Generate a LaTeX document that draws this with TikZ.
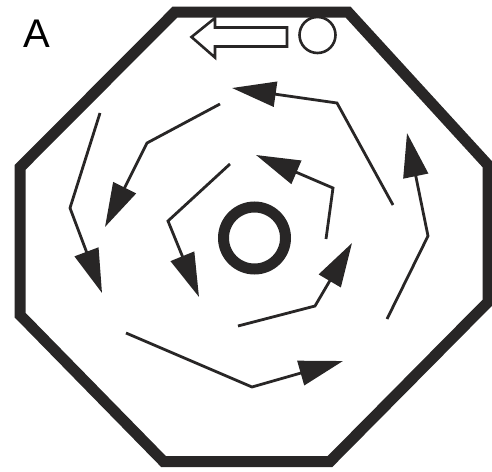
\documentclass[tikz,border=0pt]{standalone}
\usepackage{fontspec}
\setmainfont{Liberation Sans}
\usetikzlibrary{arrows.meta}
\definecolor{ink}{RGB}{40,38,38}
\tikzset{
  wall/.style={draw=ink, line width=11pt, line join=miter},
  flow/.style={draw=ink, line width=2.8pt, line join=miter,
    -{Triangle[length=44pt,width=25pt]}},
  outline/.style={draw=ink, line width=2.6pt, fill=white, line join=miter},
}
\begin{document}
\begin{tikzpicture}[x=1pt,y=-1pt]
\useasboundingbox (0,0) rectangle (492,471);
% octagon vertices
\coordinate (o1) at (175,12);
\coordinate (o2) at (348,12);
\coordinate (o3) at (488,165);
\coordinate (o4) at (488,302);
\coordinate (o5) at (330,461.5);
\coordinate (o6) at (163.5,461.5);
\coordinate (o7) at (20,315);
\coordinate (o8) at (20,167.5);
\draw[wall] (o1) -- (o2) -- (o3) -- (o4) -- (o5) -- (o6) -- (o7) -- (o8) -- cycle;
% label
\node[font=\fontsize{40}{40}\selectfont, inner sep=0pt, anchor=base, text=black] (lab) at (36.5,47) {A};
% hollow arrow and circle at top
\draw[outline] (287,27.5) -- (215,27.5) -- (215,18) -- (191.5,37) -- (215,57.5) -- (215,46.5) -- (287,46.5) -- cycle;
\node[draw=ink, line width=2.6pt, circle, minimum size=36pt, inner sep=0pt] (dot) at (317.5,35) {};
% centre ring
\node[draw=ink, line width=11pt, circle, minimum size=62pt, inner sep=0pt] (ring) at (254.5,238) {};
% flow arrows
\coordinate (a1s) at (393,205); \coordinate (a1b) at (337,103); \coordinate (a1t) at (232,88);
\coordinate (a2s) at (220,104); \coordinate (a2b) at (147,143); \coordinate (a2t) at (105,227);
\coordinate (a3s) at (100,113); \coordinate (a3b) at (70,208);  \coordinate (a3t) at (102,293);
\coordinate (a4s) at (230,164); \coordinate (a4b) at (168,221); \coordinate (a4t) at (199,297);
\coordinate (a5s) at (326,239); \coordinate (a5b) at (333,188); \coordinate (a5t) at (256,155);
\coordinate (a6s) at (238,326); \coordinate (a6b) at (315,306); \coordinate (a6t) at (352,243);
\coordinate (a7s) at (126,333); \coordinate (a7b) at (252,387); \coordinate (a7t) at (343,361);
\coordinate (a8s) at (387,319); \coordinate (a8b) at (428,236); \coordinate (a8t) at (407,133);
\foreach \i in {1,...,8} {
  \draw[flow] (a\i s) -- (a\i b) -- (a\i t);
}
\end{tikzpicture}
\end{document}
